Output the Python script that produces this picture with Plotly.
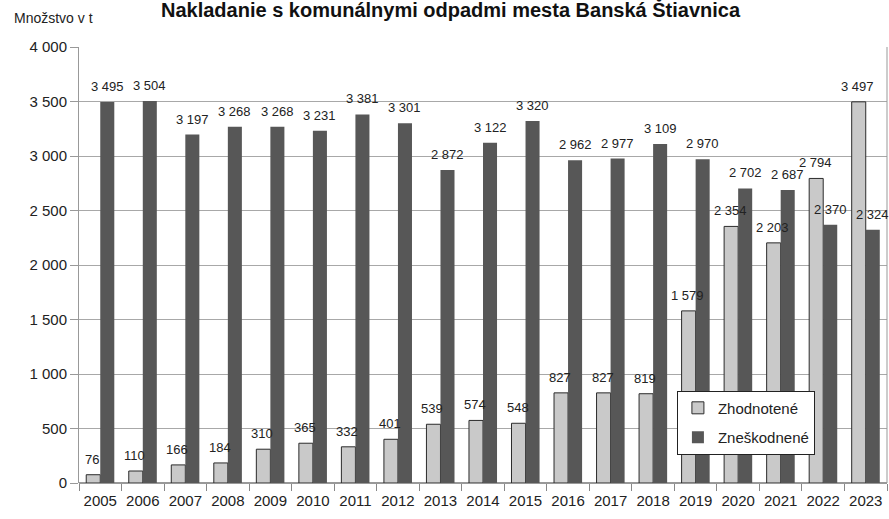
import plotly.graph_objects as go

years = [str(y) for y in range(2005, 2024)]
zhodnotene = [76, 110, 166, 184, 310, 365, 332, 401, 539, 574, 548, 827, 827, 819, 1579, 2354, 2203, 2794, 3497]
zneskodnene = [3495, 3504, 3197, 3268, 3268, 3231, 3381, 3301, 2872, 3122, 3320, 2962, 2977, 3109, 2970, 2702, 2687, 2370, 2324]
y_ticks = [0, 500, 1000, 1500, 2000, 2500, 3000, 3500, 4000]

FONT = "Liberation Sans Narrow, Arial Narrow, Liberation Sans, Arial, sans-serif"

fig = go.Figure()
fig.add_trace(go.Bar(
    x=years, y=zhodnotene, name="Zhodnotené", legendgroup="a",
    marker=dict(color="#c9c9c9", line=dict(color="#2b2b2b", width=1)),
))
fig.add_trace(go.Bar(
    x=years, y=zneskodnene, name="Zneškodnené", legendgroup="b",
    marker=dict(color="#575757", line=dict(color="#575757", width=0)),
))


def fmt(v):
    return f"{v:,}".replace(",", " ")


# value labels drawn on top of all bars (as in the reference)
for series, shift in ((zhodnotene, -8), (zneskodnene, 7)):
    for i, v in enumerate(series):
        fig.add_annotation(
            x=i, y=v, text=fmt(v), showarrow=False,
            xanchor="center", yanchor="bottom", xshift=shift, yshift=6,
            font=dict(size=13, family=FONT, color="#222"),
        )

fig.update_layout(
    width=889, height=519,
    margin=dict(l=79, r=2, t=47, b=36),
    paper_bgcolor="white", plot_bgcolor="white",
    separators=", ",
    barmode="group", bargap=0.34, bargroupgap=0,
    font=dict(family=FONT, color="#222", size=14),
    showlegend=True,
    legend=dict(
        x=0.740, y=0.212, xanchor="left", yanchor="top",
        bgcolor="white", bordercolor="#222", borderwidth=1,
        font=dict(size=15, family=FONT, color="#222"),
        itemwidth=30, traceorder="grouped", tracegroupgap=7,
    ),
)
fig.update_xaxes(
    type="category", range=[-0.5, len(years) - 0.5],
    showline=False, ticks="outside", tickson="boundaries",
    ticklen=7, tickcolor="#888", ticklabelstandoff=7,
    tickfont=dict(size=15, family=FONT, color="#222"),
    showgrid=False, automargin=False,
)
fig.update_yaxes(
    range=[0, 4000], tickvals=y_ticks, tickformat=",d",
    showgrid=True, gridcolor="#a8a8a8", gridwidth=1,
    showline=True, linecolor="#999", linewidth=1,
    ticks="outside", ticklen=8, tickcolor="#999",
    tickfont=dict(size=15, family=FONT, color="#222"),
    zeroline=True, zerolinecolor="#999",
)
# right border
fig.add_shape(type="line", xref="paper", yref="paper", x0=1, x1=1, y0=0, y1=1,
              line=dict(color="#999", width=1))

fig.add_annotation(
    text="<b>Nakladanie s komunálnymi odpadmi mesta Banská Štiavnica</b>",
    xref="paper", yref="paper", x=0.461, y=1.085, xanchor="center", yanchor="middle",
    showarrow=False, font=dict(size=20, family=FONT, color="#111"),
)
fig.add_annotation(
    text="Množstvo v t", xref="paper", yref="paper", x=-0.083, y=1.067,
    xanchor="left", yanchor="middle", showarrow=False,
    font=dict(size=14, family=FONT, color="#222"),
)

fig.write_html(
    "out.html",
    config={"displayModeBar": False},
    post_script="document.body.style.margin='0';document.body.style.padding='0';",
)
